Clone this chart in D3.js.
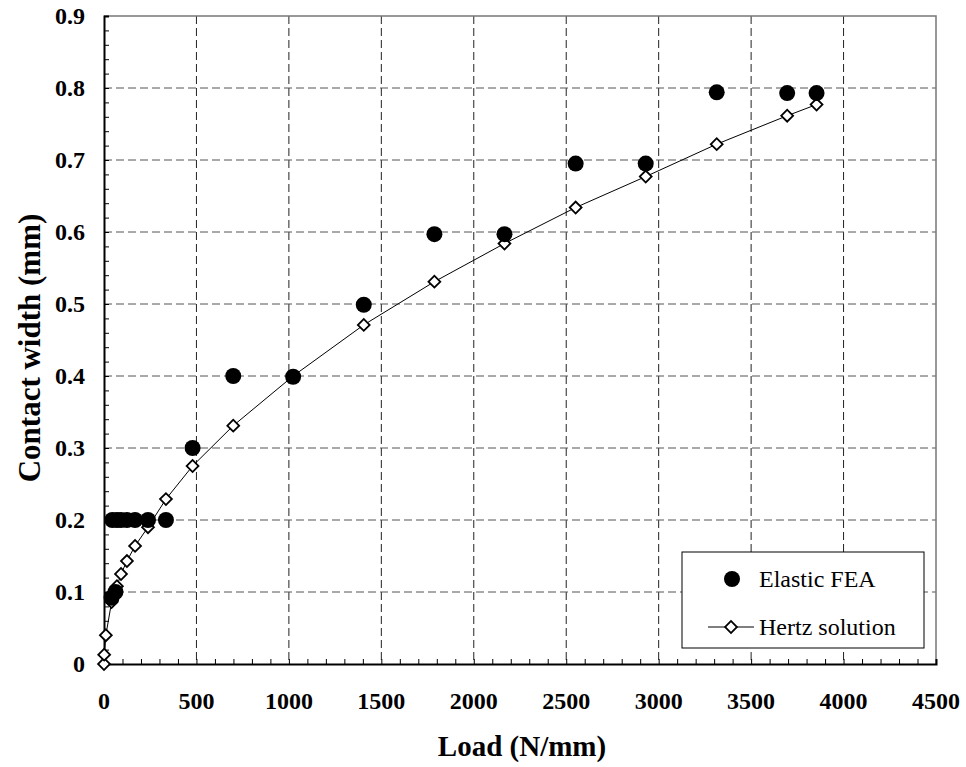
<!DOCTYPE html>
<html>
<head>
<meta charset="utf-8">
<script src="https://cdn.jsdelivr.net/npm/d3@7"></script>
<style>
  body { margin: 0; background: #fff; }
  svg text { font-family: "Liberation Serif", "Times New Roman", serif; }
</style>
</head>
<body>
<svg id="chart" width="966" height="767"></svg>
<script>
// loads (N/mm) and contact widths (mm)
const hertzLoad = [0, 1, 10, 41, 55, 70, 92, 124, 168, 238, 335, 479, 699, 1023, 1405, 1787, 2166, 2551, 2930, 3314, 3695, 3854];
const hertzWidth = [0, 0.013, 0.04, 0.086, 0.095, 0.108, 0.125, 0.143, 0.164, 0.19, 0.229, 0.275, 0.331, 0.40, 0.471, 0.531, 0.584, 0.634, 0.677, 0.722, 0.7615, 0.777];

const feaLoad = [41, 62, 45, 70, 92, 124, 168, 238, 335, 479, 699, 1023, 1405, 1787, 2166, 2551, 2930, 3314, 3695, 3854];
const feaWidth = [0.092, 0.1, 0.2, 0.2, 0.2, 0.2, 0.2, 0.2, 0.2, 0.3, 0.4, 0.399, 0.499, 0.597, 0.597, 0.695, 0.695, 0.794, 0.793, 0.793];

const xTicks = [0, 500, 1000, 1500, 2000, 2500, 3000, 3500, 4000, 4500];
const yTicks = [0, 0.1, 0.2, 0.3, 0.4, 0.5, 0.6, 0.7, 0.8, 0.9];

const svg = d3.select("#chart"),
  pl = 104, pr = 936, pt = 16, pb = 664,
  serif = "Liberation Serif, Times New Roman, serif";

const x = d3.scaleLinear().domain([0, 4500]).range([pl, pr]);
const y = d3.scaleLinear().domain([0, 0.9]).range([pb, pt]);

// dashed grid
const grid = svg.append("g")
  .attr("stroke", "#222")
  .attr("stroke-width", 1)
  .attr("stroke-dasharray", "8,4");
grid.selectAll(".vg").data(xTicks.slice(1, -1)).join("line")
  .attr("x1", d => x(d)).attr("x2", d => x(d))
  .attr("y1", pt).attr("y2", pb);
grid.selectAll(".hg").data(yTicks.slice(1, -1)).join("line")
  .attr("stroke", "#555")
  .attr("x1", pl).attr("x2", pr)
  .attr("y1", d => y(d)).attr("y2", d => y(d));

// frame: top & right grey
svg.append("path")
  .attr("d", `M${pl},${pt}H${pr}V${pb}`)
  .attr("fill", "none").attr("stroke", "#777").attr("stroke-width", 1.5);

// axes with inward ticks, minor ones every 100 / 0.02
const xAxis = d3.axisBottom(x).tickValues(d3.range(0, 4501, 100))
  .tickSize(-5).tickFormat("");
const yAxis = d3.axisLeft(y).tickValues(d3.range(0, 0.9001, 0.02))
  .tickSize(-5).tickFormat("");

const gx = svg.append("g").attr("transform", `translate(0,${pb})`).call(xAxis);
const gy = svg.append("g").attr("transform", `translate(${pl},0)`).call(yAxis);
[gx, gy].forEach(g => {
  g.select(".domain").attr("stroke", "#000").attr("stroke-width", 2);
  g.selectAll(".tick line").attr("stroke", "#000").attr("stroke-width", 1);
});

// tick labels
svg.append("g").selectAll("text").data(xTicks).join("text")
  .attr("x", d => x(d)).attr("y", 709)
  .attr("text-anchor", "middle")
  .attr("font-family", serif)
  .attr("font-size", 24).attr("font-weight", "bold")
  .text(d => d);
svg.append("g").selectAll("text").data(yTicks).join("text")
  .attr("x", pl - 19).attr("y", d => y(d) + 8)
  .attr("text-anchor", "end")
  .attr("font-family", serif)
  .attr("font-size", 24).attr("font-weight", "bold")
  .text(d => d === 0 ? "0" : d3.format(".1f")(d));

// axis titles
svg.append("text")
  .attr("x", 522).attr("y", 756)
  .attr("text-anchor", "middle")
  .attr("font-family", serif)
  .attr("font-size", 29).attr("font-weight", "bold")
  .text("Load (N/mm)");
svg.append("text")
  .attr("transform", "translate(40,348) rotate(-90)")
  .attr("text-anchor", "middle")
  .attr("font-family", serif)
  .attr("font-size", 31).attr("font-weight", "bold")
  .text("Contact width (mm)");

// Hertz solution line + diamonds
const hertz = hertzLoad.map((d, i) => [d, hertzWidth[i]]);
const fea = feaLoad.map((d, i) => [d, feaWidth[i]]);

const diamond = d3.symbol().type(d3.symbolSquare).size(70);

svg.append("path").datum(hertz)
  .attr("fill", "none").attr("stroke", "#000").attr("stroke-width", 1)
  .attr("d", d3.line().x(d => x(d[0])).y(d => y(d[1])));

svg.append("g").selectAll("path").data(hertz).join("path")
  .attr("d", diamond)
  .attr("transform", d => `translate(${x(d[0])},${y(d[1])}) rotate(45)`)
  .attr("fill", "#fff").attr("stroke", "#000").attr("stroke-width", 1.8);

// Elastic FEA
svg.append("g").selectAll("circle").data(fea).join("circle")
  .attr("cx", d => x(d[0])).attr("cy", d => y(d[1]))
  .attr("r", 8).attr("fill", "#000");

// legend
const lg = svg.append("g");
lg.append("rect").attr("x", 682).attr("y", 552).attr("width", 242).attr("height", 96)
  .attr("fill", "#fff").attr("stroke", "#000").attr("stroke-width", 1);
lg.append("circle").attr("cx", 732).attr("cy", 579).attr("r", 8).attr("fill", "#000");
lg.append("text").attr("x", 759).attr("y", 587)
  .attr("font-family", serif).attr("font-size", 24).text("Elastic FEA");
lg.append("line").attr("x1", 708).attr("x2", 754).attr("y1", 627).attr("y2", 627)
  .attr("stroke", "#000").attr("stroke-width", 1);
lg.append("path").attr("d", diamond)
  .attr("transform", "translate(731,627) rotate(45)")
  .attr("fill", "#fff").attr("stroke", "#000").attr("stroke-width", 1.8);
lg.append("text").attr("x", 759).attr("y", 635)
  .attr("font-family", serif).attr("font-size", 24).text("Hertz solution");
</script>
</body>
</html>
